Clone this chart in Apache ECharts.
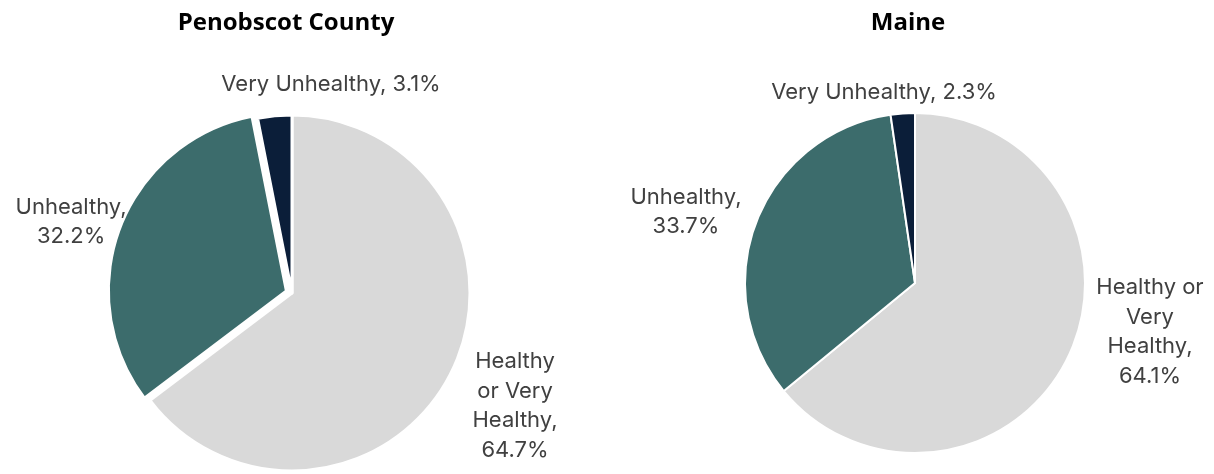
<!DOCTYPE html>
<html>
<head>
<meta charset="utf-8">
<script src="https://cdn.jsdelivr.net/npm/echarts@6/dist/echarts.min.js"></script>
<style>
  html, body { margin: 0; padding: 0; background: #ffffff; }
  #chart { width: 1214px; height: 474px; }
</style>
</head>
<body>
<div id="chart"></div>
<script>
// ---- Data ----
const categories = ['Healthy or Very Healthy', 'Unhealthy', 'Very Unhealthy'];
const penobscotValues = [64.7, 32.2, 3.1];
const maineValues = [64.1, 33.7, 2.3];
const chartTitles = ['Penobscot County', 'Maine'];
// label texts (line breaks as in the reference)
const penobscotLabels = ['Healthy\nor Very\nHealthy,\n64.7%', 'Unhealthy,\n32.2%', 'Very Unhealthy, 3.1%'];
const maineLabels = ['Healthy or\nVery\nHealthy,\n64.1%', 'Unhealthy,\n33.7%', 'Very Unhealthy, 2.3%'];

// ---- Styling / layout ----
const colors = ['#d9d9d9', '#3c6c6c', '#0b1e39'];
const textColor = '#404040';
const labelFont = 'Inter, "Open Sans", sans-serif';
// label anchor (centre) positions
const penobscotLabelPos = [[515, 406], [66, 196], [331, 84]];
const maineLabelPos = [[1150, 332], [686, 212], [884, 92]];

function buildData(values, labels, explodeIndex) {
  return values.map((v, i) => ({
    name: categories[i],
    value: v,
    selected: i === explodeIndex,
    itemStyle: { color: colors[i] },
    label: { formatter: labels[i] }
  }));
}

function pieSeries(values, labels, center, radius, borderW, labelPos, explodeIndex) {
  return {
    type: 'pie',
    center: center,
    radius: radius,
    startAngle: 90,
    clockwise: true,
    selectedMode: explodeIndex >= 0 ? 'single' : false,
    selectedOffset: 6,
    silent: true,
    animation: false,
    avoidLabelOverlap: false,
    itemStyle: { borderColor: '#ffffff', borderWidth: borderW },
    label: {
      show: true,
      position: 'outside',
      color: textColor,
      fontFamily: labelFont,
      fontSize: 22,
      lineHeight: 29.5,
      align: 'center',
      verticalAlign: 'middle'
    },
    labelLine: { show: false },
    labelLayout: function (params) {
      const p = labelPos[params.dataIndex];
      return { x: p[0], y: p[1], align: 'center', verticalAlign: 'middle' };
    },
    emphasis: { disabled: true },
    data: buildData(values, labels, explodeIndex)
  };
}

const titleStyle = { fontFamily: '"Open Sans", sans-serif', fontWeight: 'bold', fontSize: 24, color: '#000000' };

const chart = echarts.init(document.getElementById('chart'), null, { renderer: 'canvas' });
chart.setOption({
  backgroundColor: '#ffffff',
  animation: false,
  title: [
    { text: chartTitles[0], left: 281, top: 6, textAlign: 'center', textStyle: titleStyle },
    { text: chartTitles[1], left: 903, top: 6, textAlign: 'center', textStyle: titleStyle }
  ],
  series: [
    pieSeries(penobscotValues, penobscotLabels, [292, 293], 178, 3, penobscotLabelPos, 1),
    pieSeries(maineValues, maineLabels, [915, 283], 170, 2, maineLabelPos, -1)
  ]
});
</script>
</body>
</html>
